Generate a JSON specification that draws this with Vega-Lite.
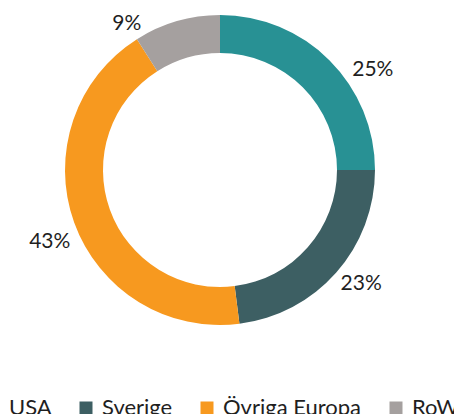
{
  "$schema": "https://vega.github.io/schema/vega-lite/v6.json",
  "autosize": {"type": "none"},
  "width": 440,
  "height": 340,
  "padding": {"left": 0, "top": 0, "right": 14, "bottom": 74},
  "background": "white",
  "config": {"view": {"stroke": null}, "font": "Lato"},
  "data": {
    "values": [
      {"region": "USA", "share": 25, "rank": 1, "label": "25%"},
      {"region": "Sverige", "share": 23, "rank": 2, "label": "23%"},
      {"region": "Övriga Europa", "share": 43, "rank": 3, "label": "43%"},
      {"region": "RoW", "share": 9, "rank": 4, "label": "9%"}
    ]
  },
  "layer": [
    {
      "mark": {"type": "arc", "outerRadius": 155, "innerRadius": 117},
      "encoding": {
        "theta": {"field": "share", "type": "quantitative", "stack": true},
        "order": {"field": "rank", "type": "quantitative"},
        "color": {
          "field": "region",
          "type": "nominal",
          "scale": {
            "domain": ["USA", "Sverige", "Övriga Europa", "RoW"],
            "range": ["#289194", "#3D5F63", "#F7991F", "#A5A09F"]
          },
          "legend": {
            "orient": "none",
            "direction": "horizontal",
            "legendX": -18,
            "legendY": 397,
            "title": null,
            "padding": 0,
            "symbolType": "square",
            "symbolSize": 169,
            "symbolStrokeWidth": 0,
            "symbolOpacity": 1,
            "labelFont": "Lato",
            "labelFontSize": 22,
            "labelColor": "#1f1f1f",
            "labelOffset": 5,
            "columnPadding": 23,
            "labelLimit": 300
          }
        }
      }
    },
    {
      "mark": {
        "type": "text",
        "radius": 166,
        "fontSize": 21,
        "font": "Lato",
        "color": "#1f1f1f",
        "baseline": "middle",
        "align": {"expr": "datum.share_start + datum.share_end < 100 ? 'left' : 'right'"}
      },
      "encoding": {
        "theta": {
          "field": "share",
          "type": "quantitative",
          "stack": true,
          "scale": {"domain": [0, 100], "range": [0.1885, 6.053]}
        },
        "order": {"field": "rank", "type": "quantitative"},
        "text": {"field": "label", "type": "nominal"}
      }
    }
  ],
  "resolve": {"scale": {"theta": "independent"}}
}
